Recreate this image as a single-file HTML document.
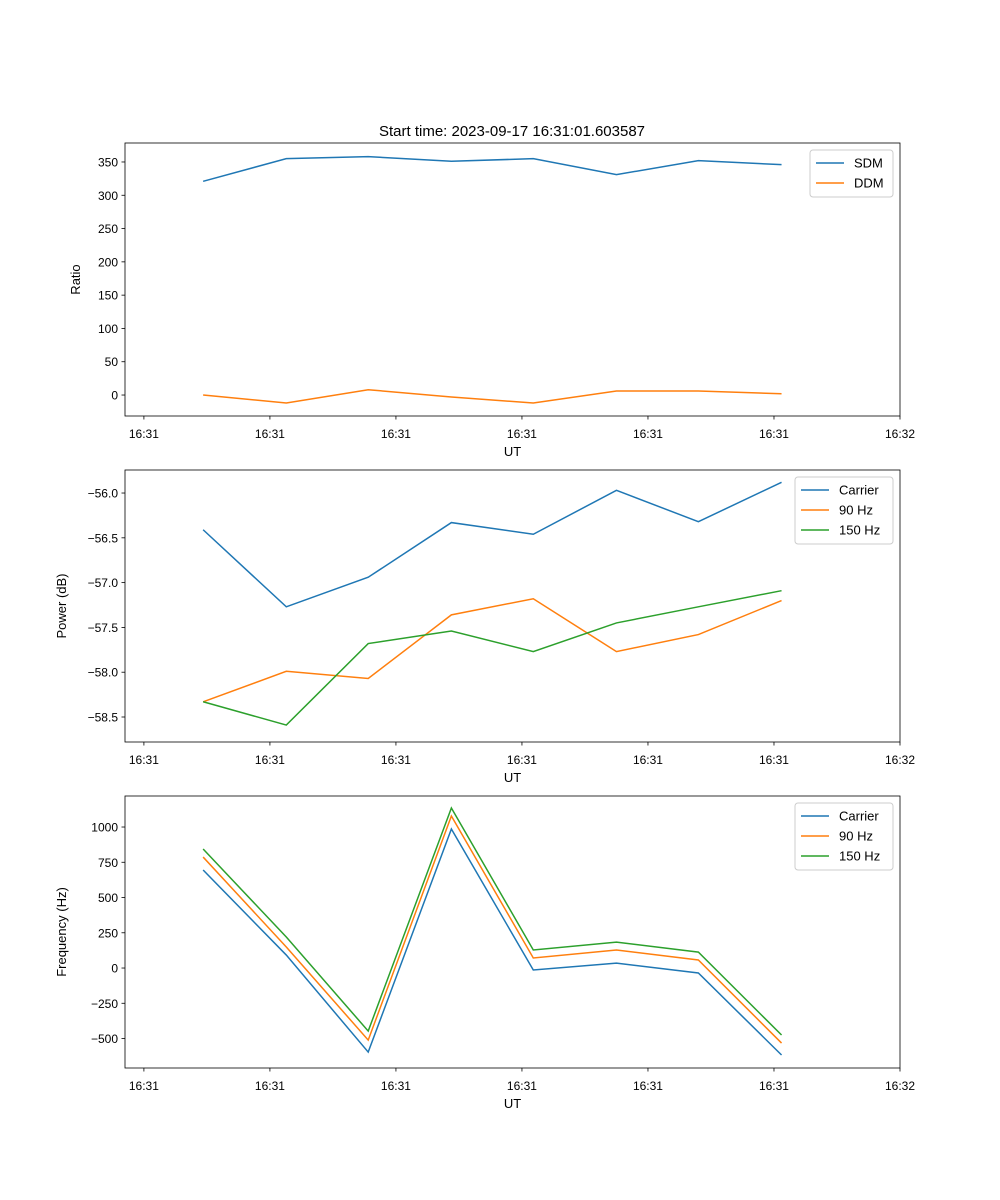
<!DOCTYPE html>
<html><head><meta charset="utf-8"><style>body{margin:0;background:#fff}svg{display:block;font-family:"Liberation Sans","DejaVu Sans",sans-serif}</style></head>
<body>
<svg id="fig" width="1000" height="1200"></svg>
<script>
const times=[4.7,11.3,17.8,24.4,30.9,37.5,44.0,50.6];
const xTicks=[0,10,20,30,40,50,60];
const xTickLabels=["16:31","16:31","16:31","16:31","16:31","16:31","16:32"];
const sdm=[321,355,358,351,355,331,352,346];
const ddm=[0,-12,8,-3,-12,6,6,2];
const pCarrier=[-56.41,-57.27,-56.94,-56.33,-56.46,-55.97,-56.32,-55.88];
const p90=[-58.33,-57.99,-58.07,-57.36,-57.18,-57.77,-57.58,-57.2];
const p150=[-58.33,-58.59,-57.68,-57.54,-57.77,-57.45,-57.27,-57.09];
const fCarrier=[695,92,-596,986,-14,35,-35,-617];
const f90=[787,149,-511,1078,71,128,57,-532];
const f150=[844,220,-447,1135,128,184,113,-475];
const ticks1=[0,50,100,150,200,250,300,350];
const ticks2=[-58.5,-58.0,-57.5,-57.0,-56.5,-56.0];
const ticks3=[-500,-250,0,250,500,750,1000];
const C=["#1f77b4","#ff7f0e","#2ca02c"];
const NS="http://www.w3.org/2000/svg";
const svg=document.getElementById('fig');
function el(t,a,p){const e=document.createElementNS(NS,t);for(const k in a)e.setAttribute(k,a[k]);(p||svg).appendChild(e);return e;}
const L=125,R=900,xmin=-1.5,xmax=60;
const sx=v=>L+(v-xmin)/(xmax-xmin)*(R-L);
function panel(name,top,bot,ymin,ymax,yt,fmt,ylabel,series,names,legW){
  const g=el('g',{});
  
  
  const sy=v=>bot-(v-ymin)/(ymax-ymin)*(bot-top);
  series.forEach((s,i)=>{
    const pl=el('polyline',{points:s.map((v,j)=>sx(times[j])+','+sy(v)).join(' '),fill:'none',stroke:C[i],'stroke-width':1.5},g);
    
    
  });
  el('rect',{x:L,y:top,width:R-L,height:bot-top,fill:'none',stroke:'#000','stroke-width':0.8},g);
  xTicks.forEach((t,i)=>{const x=sx(t);el('line',{x1:x,x2:x,y1:bot,y2:bot+3.5,stroke:'#000','stroke-width':0.8},g);
    const tx=el('text',{x:x,y:bot+22,'font-size':12,'text-anchor':'middle'},g);tx.textContent=xTickLabels[i];
    });
  yt.forEach(t=>{const y=sy(t);el('line',{x1:L-3.5,x2:L,y1:y,y2:y,stroke:'#000','stroke-width':0.8},g);
    const tx=el('text',{x:L-7,y:y+4.5,'font-size':12,'text-anchor':'end'},g);tx.textContent=fmt(t);
    });
  const xl=el('text',{x:(L+R)/2,y:bot+40,'font-size':13,'text-anchor':'middle'},g);xl.textContent='UT';
  
  const yx=name==='ratio'?80:66;
  const yl=el('text',{x:yx,y:(top+bot)/2,'font-size':13,'text-anchor':'middle',transform:`rotate(-90 ${yx} ${(top+bot)/2})`},g);yl.textContent=ylabel;
  
  const lg=el('g',{},g);
  
  const lx=R-7-legW,ly=top+7;
  el('rect',{x:lx,y:ly,width:legW,height:names.length*20+7,rx:3,fill:'#fff',stroke:'#ccc'},lg);
  names.forEach((n,i)=>{const y=ly+13+i*20;
    el('line',{x1:lx+6,x2:lx+34,y1:y,y2:y,stroke:C[i],'stroke-width':1.5},lg);
    const t=el('text',{x:lx+44,y:y+4.5,'font-size':13},lg);t.textContent=n;
    });
}
const tt=el('text',{x:512,y:136,'font-size':15,'text-anchor':'middle'});tt.textContent='Start time: 2023-09-17 16:31:01.603587';

panel('ratio',143,416,-31.5,378.5,ticks1,v=>String(v),'Ratio',[sdm,ddm],['SDM','DDM'],83);
panel('power',470,742,-58.779,-55.743,ticks2,v=>v.toFixed(1).replace('-','−'),'Power (dB)',[pCarrier,p90,p150],['Carrier','90 Hz','150 Hz'],98);
panel('frequency',796,1068,-709,1220,ticks3,v=>String(v).replace('-','−'),'Frequency (Hz)',[fCarrier,f90,f150],['Carrier','90 Hz','150 Hz'],98);
</script>
</body></html>
